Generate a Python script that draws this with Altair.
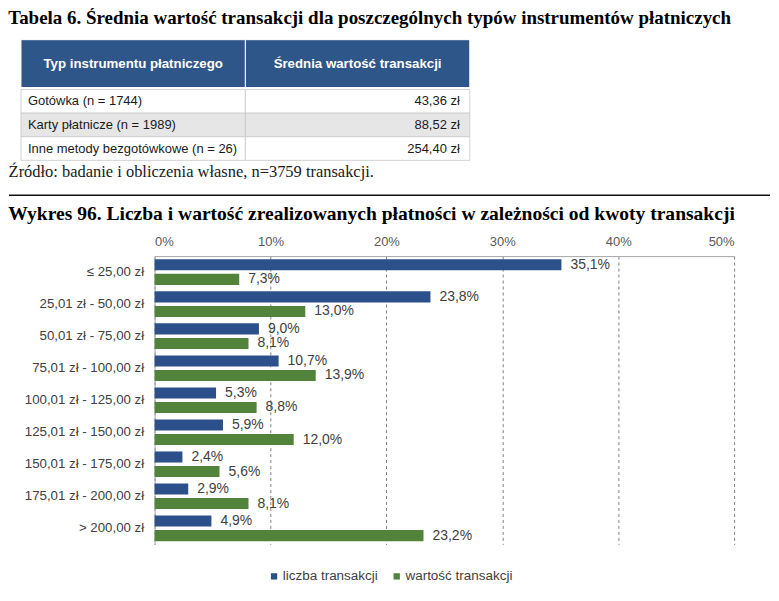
import altair as alt
import pandas as pd

# --- table data ---
table_columns = ["Typ instrumentu płatniczego", "Średnia wartość transakcji"]
instruments = ["Gotówka (n = 1744)", "Karty płatnicze (n = 1989)", "Inne metody bezgotówkowe (n = 26)"]
average_values = ["43,36 zł", "88,52 zł", "254,40 zł"]

# --- chart data ---
amount_ranges = ["≤ 25,00 zł", "25,01 zł - 50,00 zł", "50,01 zł - 75,00 zł",
                 "75,01 zł - 100,00 zł", "100,01 zł - 125,00 zł", "125,01 zł - 150,00 zł",
                 "150,01 zł - 175,00 zł", "175,01 zł - 200,00 zł", "> 200,00 zł"]
count_share = [35.1, 23.8, 9.0, 10.7, 5.3, 5.9, 2.4, 2.9, 4.9]
value_share = [7.3, 13.0, 8.1, 13.9, 8.8, 12.0, 5.6, 8.1, 23.2]
series = ["liczba transakcji", "wartość transakcji"]
x_ticks = [0, 10, 20, 30, 40, 50]

NAVY = "#2F5689"
BLUE = "#2C5089"
GREEN = "#51843A"
SERIF = "Liberation Serif"
SANS = "Liberation Sans"

# every panel shares the plot's left edge, so the table sits left of it
col_x = alt.Scale(range=[-134, 316], paddingInner=0, paddingOuter=0)

# header row of the table
header_df = pd.DataFrame({"col": table_columns})
header_base = alt.Chart(header_df).encode(
    x=alt.X("col:N", sort=table_columns, axis=None, scale=col_x)
)
header = alt.layer(
    header_base.mark_rect(fill=NAVY, stroke="white", strokeWidth=1),
    header_base.mark_text(color="white", fontWeight="bold", fontSize=13.3, font=SANS).encode(text="col:N"),
).properties(width=316, height=48)

# body rows of the table
rows = []
for i, name in enumerate(instruments):
    rows.append({"row": name, "col": table_columns[0], "label": name, "shade": i % 2})
    rows.append({"row": name, "col": table_columns[1], "label": average_values[i], "shade": i % 2})
body_df = pd.DataFrame(rows)

body_base = alt.Chart(body_df).encode(
    y=alt.Y("row:N", sort=instruments, axis=None, scale=alt.Scale(paddingInner=0, paddingOuter=0))
)
body_cells = body_base.mark_rect(stroke="#C8C8C8", strokeWidth=0.8).encode(
    x=alt.X("col:N", sort=table_columns, axis=None, scale=col_x),
    fill=alt.condition("datum.shade == 1", alt.value("#E6E6E6"), alt.value("white")),
)
body_left = body_base.mark_text(align="left", dx=7, fontSize=13, font=SANS, color="#1A1A1A").encode(
    x=alt.X("col:N", sort=table_columns, axis=None, scale=col_x, bandPosition=0),
    text="label:N",
).transform_filter(alt.datum.col == table_columns[0])
body_right = body_base.mark_text(align="right", dx=-10, fontSize=13, font=SANS, color="#1A1A1A").encode(
    x=alt.X("col:N", sort=table_columns, axis=None, scale=col_x, bandPosition=1),
    text="label:N",
).transform_filter(alt.datum.col == table_columns[1])

body = alt.layer(body_cells, body_left, body_right).properties(
    width=316, height=71,
    title=alt.TitleParams(
        "Źródło: badanie i obliczenia własne, n=3759 transakcji.",
        orient="bottom", anchor="start", font=SERIF, fontSize=16.5,
        fontWeight="normal", color="#1A1A1A", offset=3.5, dx=-12,
    ),
)

# separator line
sep = alt.Chart(pd.DataFrame({"d": [0]})).mark_rule(color="#111111", strokeWidth=1.3).encode(
    x=alt.value(-146), x2=alt.value(617), y=alt.value(14)
).properties(width=581, height=22)

# bar chart
bar_rows = []
for i, r in enumerate(amount_ranges):
    for s, v in zip(series, [count_share[i], value_share[i]]):
        bar_rows.append({"range": r, "series": s, "share": v,
                         "label": f"{v:.1f}".replace(".", ",") + "%"})
bar_df = pd.DataFrame(bar_rows)

bar_base = alt.Chart(bar_df).encode(
    y=alt.Y("range:N", sort=amount_ranges, title=None,
            scale=alt.Scale(paddingInner=0.2, paddingOuter=0.1),
            axis=alt.Axis(ticks=False, labelPadding=11, labelFontSize=13.3, labelColor="#404040",
                          labelFont=SANS, domainColor="#A6A6A6")),
    yOffset=alt.YOffset("series:N", sort=series, scale=alt.Scale(paddingInner=0.24)),
    x=alt.X("share:Q", title=None, scale=alt.Scale(domain=[0, 50], nice=False),
            axis=alt.Axis(orient="top", values=x_ticks, labelExpr="datum.value + '%'",
                          ticks=False, grid=True, gridDash=[3, 3], gridColor="#7F7F7F",
                          domainColor="#A6A6A6", labelColor="#595959", labelFontSize=13,
                          labelFont=SANS, labelPadding=8)),
)
bars = bar_base.mark_bar().encode(
    color=alt.Color("series:N", sort=series,
                    scale=alt.Scale(domain=series, range=[BLUE, GREEN]),
                    # shared legend: placed relative to the top of the table header
                    legend=alt.Legend(orient="none", legendX=113, legendY=531, direction="horizontal",
                                      title=None, symbolType="square", symbolSize=40,
                                      symbolStrokeWidth=0, labelFontSize=13.5, labelFont=SANS,
                                      labelColor="#404040", columnPadding=12, padding=0,
                                      labelOffset=2)),
)
bar_labels = bar_base.mark_text(align="left", dx=9, fontSize=14, font=SANS, color="#404040").encode(
    text="label:N"
)

chart_bars = alt.layer(bars, bar_labels).properties(
    width=581, height=289,
    title=alt.TitleParams(
        "Wykres 96. Liczba i wartość zrealizowanych płatności w zależności od kwoty transakcji",
        anchor="start", font=SERIF, fontSize=19.6, fontWeight="bold", color="black",
        dx=-16, offset=11,
    ),
)

chart = alt.vconcat(header, body, sep, chart_bars, spacing=0).properties(
    padding=0,
    title=alt.TitleParams(
        "Tabela 6. Średnia wartość transakcji dla poszczególnych typów instrumentów płatniczych",
        anchor="start", font=SERIF, fontSize=19, fontWeight="bold", color="black", offset=11,
    ),
).configure_view(stroke=None)

chart.save("out.html", embed_options={"renderer": "svg", "actions": False})
